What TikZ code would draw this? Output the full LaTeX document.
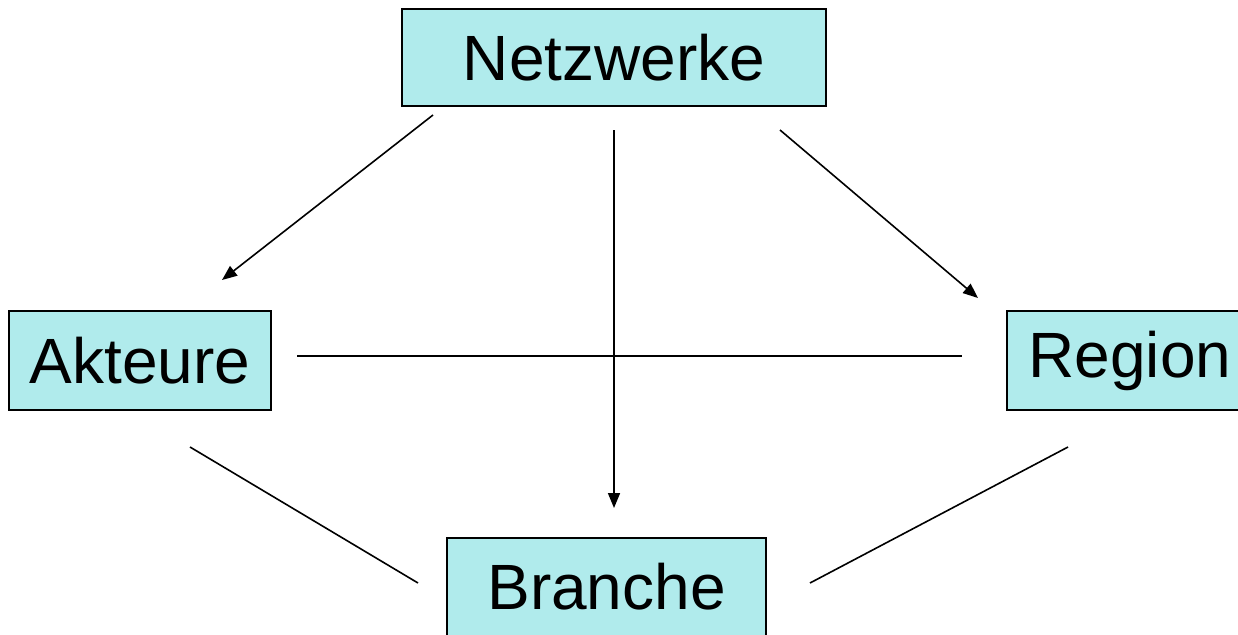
\documentclass[tikz,border=0pt]{standalone}
\usepackage{fontspec}
\setmainfont{Liberation Sans}
\usetikzlibrary{arrows.meta}
\definecolor{boxfill}{RGB}{176,235,236}
\tikzset{
  box/.style={draw=black, line width=1.5pt, fill=boxfill, inner sep=0pt, font=\fontsize{64}{70}\selectfont},
  conn/.style={line width=1.6pt, black},
  arr/.style={conn, -{Triangle[length=15pt,width=12pt]}}
}
\begin{document}
\begin{tikzpicture}[x=1pt,y=-1pt]
\useasboundingbox (0,0) rectangle (1238,634);
\clip (0,0) rectangle (1238,634);
\fill[white] (0,0) rectangle (1238,634);
\node[box, minimum width=424pt, minimum height=97pt] (netz) at (614,57.5) {Netzwerke};
\node[box, minimum width=262pt, minimum height=99pt] (akt) at (140,360.5) {Akteure};
\node[box, minimum width=246pt, minimum height=99pt] (reg) at (1130,360.5) {Region};
\node[box, minimum width=319pt, minimum height=98pt] (bra) at (606.5,587) {Branche};
\coordinate (n1) at (433,115);
\coordinate (a1) at (222,280);
\coordinate (n2) at (614,130);
\coordinate (b1) at (614,508);
\coordinate (n3) at (780,130);
\coordinate (r1) at (978,298);
\coordinate (a2) at (297,356);
\coordinate (r2) at (962,356);
\coordinate (a3) at (190,447);
\coordinate (b2) at (418,583);
\coordinate (r3) at (1068,447);
\coordinate (b3) at (810,583);
\draw[arr] (n1) -- (a1);
\draw[arr] (n2) -- (b1);
\draw[arr] (n3) -- (r1);
\draw[conn] (a2) -- (r2);
\draw[conn] (a3) -- (b2);
\draw[conn] (r3) -- (b3);
\end{tikzpicture}
\end{document}
